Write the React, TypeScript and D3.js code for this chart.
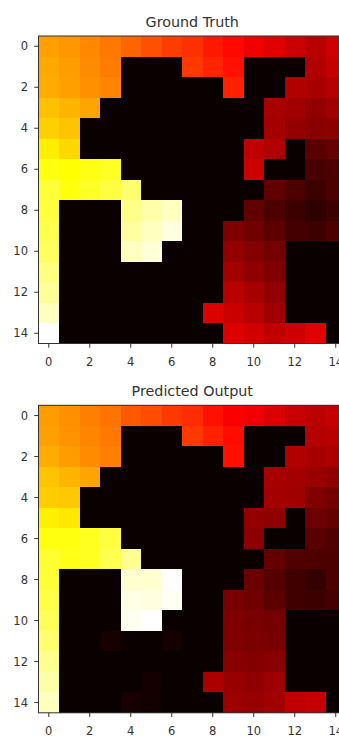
import * as d3 from "d3";

// values, already on the 0..1 scale of the "hot" colormap
const groundTruth: number[][] = [
  [0.604, 0.592, 0.568, 0.544, 0.514, 0.485, 0.455, 0.437, 0.401, 0.377, 0.343, 0.319, 0.289, 0.259, 0.289],
  [0.616, 0.598, 0.574, 0.55, 0, 0, 0, 0.449, 0.419, 0.389, 0, 0, 0, 0.247, 0.277],
  [0.622, 0.604, 0.58, 0.562, 0, 0, 0, 0, 0, 0.413, 0, 0, 0.247, 0.235, 0.253],
  [0.652, 0.634, 0.61, 0, 0, 0, 0, 0, 0, 0, 0, 0.235, 0.223, 0.199, 0.223],
  [0.676, 0.658, 0, 0, 0, 0, 0, 0, 0, 0, 0, 0.229, 0.205, 0.187, 0.193],
  [0.721, 0.688, 0, 0, 0, 0, 0, 0, 0, 0, 0.271, 0.247, 0, 0.116, 0.134],
  [0.762, 0.748, 0.766, 0.781, 0, 0, 0, 0, 0, 0, 0.289, 0, 0, 0.092, 0.098],
  [0.802, 0.762, 0.786, 0.81, 0.858, 0, 0, 0, 0, 0, 0, 0.128, 0.098, 0.074, 0.098],
  [0.81, 0, 0, 0, 0.881, 0.913, 0.937, 0, 0, 0, 0.128, 0.098, 0.074, 0.056, 0.074],
  [0.826, 0, 0, 0, 0.905, 0.937, 0.969, 0, 0, 0.175, 0.151, 0.122, 0.086, 0.074, 0.098],
  [0.842, 0, 0, 0, 0.937, 0.961, 0, 0, 0, 0.205, 0.181, 0.157, 0, 0, 0],
  [0.873, 0, 0, 0, 0, 0, 0, 0, 0, 0.229, 0.199, 0.175, 0, 0, 0],
  [0.897, 0, 0, 0, 0, 0, 0, 0, 0, 0.259, 0.235, 0.199, 0, 0, 0],
  [0.937, 0, 0, 0, 0, 0, 0, 0, 0.313, 0.283, 0.259, 0.223, 0, 0, 0],
  [1.0, 0, 0, 0, 0, 0, 0, 0, 0, 0.313, 0.295, 0.271, 0.289, 0.319, 0],
];

const predicted: number[][] = [
  [0.598, 0.58, 0.556, 0.538, 0.496, 0.479, 0.449, 0.431, 0.389, 0.358, 0.343, 0.313, 0.283, 0.265, 0.277],
  [0.604, 0.586, 0.562, 0.544, 0, 0, 0, 0.449, 0.413, 0.383, 0, 0, 0, 0.253, 0.259],
  [0.622, 0.598, 0.574, 0.556, 0, 0, 0, 0, 0, 0.389, 0, 0, 0.247, 0.235, 0.241],
  [0.658, 0.634, 0.61, 0, 0, 0, 0, 0, 0, 0, 0, 0.235, 0.229, 0.211, 0.199],
  [0.67, 0.664, 0, 0, 0, 0, 0, 0, 0, 0, 0, 0.229, 0.223, 0.175, 0.157],
  [0.724, 0.712, 0, 0, 0, 0, 0, 0, 0, 0, 0.205, 0.199, 0, 0.145, 0.134],
  [0.762, 0.762, 0.778, 0.81, 0, 0, 0, 0, 0, 0, 0.193, 0, 0, 0.116, 0.104],
  [0.794, 0.77, 0.778, 0.826, 0.889, 0, 0, 0, 0, 0, 0, 0.134, 0.104, 0.098, 0.098],
  [0.802, 0, 0, 0, 0.953, 0.953, 1.0, 0, 0, 0, 0.145, 0.11, 0.08, 0.062, 0.098],
  [0.818, 0, 0, 0, 0.977, 0.969, 0.989, 0, 0, 0.163, 0.151, 0.122, 0.08, 0.074, 0.086],
  [0.834, 0, 0, 0, 0.985, 1.0, 0, 0, 0, 0.175, 0.163, 0.157, 0, 0, 0],
  [0.858, 0, 0, 0.02, 0, 0, 0.014, 0, 0, 0.175, 0.169, 0.163, 0, 0, 0],
  [0.889, 0, 0, 0, 0, 0, 0, 0, 0, 0.187, 0.181, 0.187, 0, 0, 0],
  [0.913, 0, 0, 0, 0, 0.014, 0, 0, 0.241, 0.211, 0.199, 0.217, 0, 0, 0],
  [0.937, 0, 0, 0, 0.02, 0.01, 0, 0, 0, 0.217, 0.211, 0.223, 0.271, 0.277, 0],
];

const tickValues = [0, 2, 4, 6, 8, 10, 12, 14];
const titles = ["Ground Truth", "Predicted Output"];

const WIDTH = 339;
const HEIGHT = 737;
const LEFT = 38.5;
const SIZE = 307.5;
const TOPS = [36, 405.3];

// matplotlib "hot"
const hot = d3
  .scaleLinear<string>()
  .domain([0, 0.365, 0.746, 1])
  .range(["#0b0000", "#ff0000", "#ffff00", "#ffffff"])
  .clamp(true);

function Heatmap({ data, title, top }: { data: number[][]; title: string; top: number }) {
  const n = data.length;
  const x = d3.scaleLinear().domain([-0.5, n - 0.5]).range([LEFT, LEFT + SIZE]);
  const y = d3.scaleLinear().domain([-0.5, n - 0.5]).range([top, top + SIZE]);
  const cell = x(1) - x(0);
  const font = "'DejaVu Sans', sans-serif";

  return (
    <g>
      <text x={LEFT + SIZE / 2} y={top - 9.5} textAnchor="middle" fontFamily={font} fontSize={14.3} fill="#333">
        {title}
      </text>
      {data.map((row, r) =>
        row.map((v, c) => (
          <rect
            key={`${r}-${c}`}
            x={x(c - 0.5)}
            y={y(r - 0.5)}
            width={cell + 0.3}
            height={cell + 0.3}
            fill={hot(v)}
            shapeRendering="crispEdges"
          />
        ))
      )}
      <rect x={LEFT} y={top} width={SIZE} height={SIZE} fill="none" stroke="#333" strokeWidth={1} />
      {/* x axis */}
      {tickValues.map((t) => (
        <g key={"x" + t} transform={`translate(${x(t)},${top + SIZE})`}>
          <line y2={4.2} stroke="#333" />
          <text y={22} textAnchor="middle" fontFamily={font} fontSize={11.5} fill="#333">
            {t}
          </text>
        </g>
      ))}
      {/* y axis */}
      {tickValues.map((t) => (
        <g key={"y" + t} transform={`translate(${LEFT},${y(t)})`}>
          <line x2={-4.2} stroke="#333" />
          <text x={-10.5} dy="0.35em" textAnchor="end" fontFamily={font} fontSize={11.5} fill="#333">
            {t}
          </text>
        </g>
      ))}
    </g>
  );
}

export default function App() {
  const sets = [groundTruth, predicted];
  return (
    <svg
      width={WIDTH}
      height={HEIGHT}
      style={{ position: "absolute", left: 0, top: 0, background: "#fff" }}
    >
      <rect width={WIDTH} height={HEIGHT} fill="#fff" />
      {sets.map((d, i) => (
        <Heatmap key={titles[i]} data={d} title={titles[i]} top={TOPS[i]} />
      ))}
    </svg>
  );
}
